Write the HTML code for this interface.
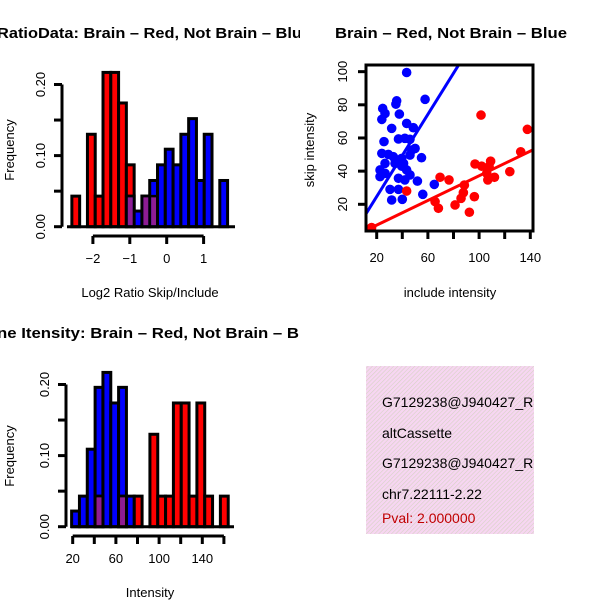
<!DOCTYPE html>
<html><head><meta charset="utf-8"><style>
html,body{margin:0;padding:0;background:#fff;}
svg text{font-family:"Liberation Sans",sans-serif;}
</style></head><body>
<svg id="chart" width="600" height="600" viewBox="0 0 600 600" xmlns="http://www.w3.org/2000/svg">
<defs>
<pattern id="hatch" width="3" height="3" patternUnits="userSpaceOnUse" patternTransform="rotate(45)">
<rect width="3" height="3" fill="#f7d6f2"/><line x1="0" y1="0" x2="0" y2="3" stroke="#d6d2c4" stroke-width="1.2"/>
</pattern>
<clipPath id="cp1"><rect x="0" y="0" width="300" height="300"/></clipPath>
<clipPath id="cp3"><rect x="0" y="300" width="300" height="300"/></clipPath>
<clipPath id="cp2"><rect x="367" y="66" width="165" height="164"/></clipPath>
<clipPath id="cp4"><rect x="366" y="366" width="168" height="168"/></clipPath>
</defs>
<g id="p1" clip-path="url(#cp1)"></g>
<g id="p2"></g>
<g id="p3" clip-path="url(#cp3)"></g>
<g id="p4">
<rect x="366" y="366" width="168" height="168" fill="url(#hatch)"/>
<g clip-path="url(#cp4)" font-size="14">
<text x="382" y="407">G7129238@J940427_RC</text>
<text x="382" y="438">altCassette</text>
<text x="382" y="468">G7129238@J940427_RC</text>
<text x="382" y="499">chr7.22111-2.22</text>
<text x="382" y="523" fill="#c00000">Pval: 2.000000</text>
</g>
</g>
</svg>
<script>
// ---- data ----
const h1Start = -2.57, h1Width = 0.211;
const h1Red  = [0.043,0,0.13,0.043,0.217,0.217,0.174,0.087,0,0.043,0.043,0,0,0,0,0,0,0,0,0];
const h1Blue = [0,0,0,0,0,0,0,0.043,0.022,0.043,0.065,0.087,0.109,0.087,0.13,0.152,0.065,0.13,0,0.065];
const h1XTicks = [-2,-1,0,1];
const freqTicks = [0.00,0.10,0.20];
const freqMinor = [0.05,0.15];

const h3Start = 19, h3Width = 7.25;
const h3Blue = [0.022,0.043,0.109,0.196,0.217,0.174,0.196,0.043,0,0,0,0,0,0,0,0,0,0,0,0];
const h3Red  = [0,0,0,0.043,0,0,0.043,0,0.043,0,0.13,0.043,0.043,0.174,0.174,0.043,0.174,0.043,0,0.043];
const h3XTicks = [20,40,60,80,100,120,140,160];
const h3XLabels = [20,60,100,140];

const blueX = [43.4,57.8,24.7,26.5,24,35.6,35,37.7,31.7,43.4,48.6,25.7,37,42,46,24,29.1,33,35.6,39.5,46,50,47.4,55,26.5,34.3,39.5,22.6,22.6,37,42,46,51.8,30.4,37,31.7,40,56,65,26.5,41,43.4];
const blueY = [99.5,83.3,77.8,74.8,71.2,82.4,80.4,74.4,65.8,68.8,66.2,57.8,59.4,59.8,59.2,50.7,50.1,48.7,46.7,47.7,49.7,53.7,52.7,48.1,44.7,44.7,43,40.7,36.7,35.7,34.7,37.7,34,29,29,22.6,23,26,32,38.7,44.7,40.7];
const redX = [16,43.4,69.5,76.5,65.6,68.2,81.2,85.9,88.5,87.7,92.4,96.3,96.8,102,101.5,106,109,107.8,106.8,112,124,132.5,137.7];
const redY = [6,28,36.3,34.7,21.6,17.6,19.6,23.6,31.6,27,15.2,24.6,44.3,43,73.8,38.7,46,42.7,34.7,36.3,39.7,51.7,65.2];
const blueFit = [-0.13,1.24];   // intercept, slope
const redFit = [0.0,0.372];
const scXTicks = [20,40,60,80,100,120,140];
const scXLabels = [20,60,100,140];
const scYTicks = [20,40,60,80,100];

const NS = "http://www.w3.org/2000/svg";
function mk(parent, tag, attrs, name){
  const e = document.createElementNS(NS, tag);
  for (const k in attrs) e.setAttribute(k, attrs[k]);
  
  
  parent.appendChild(e); return e;
}
function txt(parent, x, y, s, name, extra){
  const t = mk(parent, 'text', Object.assign({x:x, y:y}, extra||{}), name);
  t.textContent = s; return t;
}

function histogram(g, cfg){
  const xs = v => cfg.x0 + (v - cfg.v0) * cfg.kx;
  const ys = f => cfg.y0 - f * cfg.ky;
  const n = cfg.a.length;
  const draw = (arr, color, nm) => {
    for (let i = 0; i < n; i++){
      if (arr[i] <= 0) continue;
      const xa = xs(cfg.start + i*cfg.width), xb = xs(cfg.start + (i+1)*cfg.width);
      mk(g,'rect',{x:xa,y:ys(arr[i]),width:xb-xa,height:ys(0)-ys(arr[i]),fill:color,stroke:'#000','stroke-width':3}, nm);
    }
  };
  draw(cfg.a, cfg.colA, cfg.nameA);
  draw(cfg.b, cfg.colB, cfg.nameB);
  for (let i = 0; i < n; i++){
    const m = Math.min(cfg.a[i], cfg.b[i]);
    if (m <= 0) continue;
    const xa = xs(cfg.start + i*cfg.width), xb = xs(cfg.start + (i+1)*cfg.width);
    mk(g,'rect',{x:xa+1.5,y:ys(m),width:xb-xa-3,height:ys(0)-ys(m)-1.5,fill:'#8e1d93'}, 'overlap-bar');
    mk(g,'line',{x1:xa,y1:ys(m),x2:xb,y2:ys(m),stroke:'#000','stroke-width':2.5}, 'overlap-bar-top');
  }
  const yx = cfg.yAxisX;
  mk(g,'line',{x1:yx,y1:ys(0),x2:yx,y2:ys(0.2),stroke:'#000','stroke-width':3},'y-axis-line');
  freqTicks.concat(freqMinor).forEach(f=>{
    mk(g,'line',{x1:yx-8,y1:ys(f),x2:yx,y2:ys(f),stroke:'#000','stroke-width':3},'y-tick');
  });
  freqTicks.forEach(f=>{
    const lx = yx-17, ly = ys(f);
    txt(g, lx, ly, f.toFixed(2), 'y-tick-label', {'font-size':13,'text-anchor':'middle',transform:`rotate(-90 ${lx} ${ly})`});
  });
  const ax = cfg.xAxisY;
  mk(g,'line',{x1:xs(cfg.xt[0]),y1:ax,x2:xs(cfg.xt[cfg.xt.length-1]),y2:ax,stroke:'#000','stroke-width':3},'x-axis-line');
  cfg.xt.forEach(v=>mk(g,'line',{x1:xs(v),y1:ax,x2:xs(v),y2:ax+8,stroke:'#000','stroke-width':3},'x-tick'));
  cfg.xl.forEach(v=>txt(g, xs(v), ax+27, String(v).replace('-','\u2212'), 'x-tick-label', {'font-size':13,'text-anchor':'middle'}));
  mk(g,'line',{x1:cfg.yAxisX+5,y1:ys(0),x2:cfg.baseEnd,y2:ys(0),stroke:'#000','stroke-width':3},'baseline');
  txt(g, cfg.xlabX, cfg.xlabY, cfg.xlab, 'x-axis-title', {'font-size':13,'text-anchor':'middle'});
  const fx = 14, fy = cfg.flabY;
  txt(g, fx, fy, 'Frequency', 'y-axis-title', {'font-size':13,'text-anchor':'middle',transform:`rotate(-90 ${fx} ${fy})`});
  txt(g, -3, cfg.titleY, cfg.title, 'chart-title', {'font-size':14.5,'font-weight':'bold',textLength:cfg.titleLen,lengthAdjust:'spacingAndGlyphs'});
}

histogram(document.getElementById('p1'), {
  start:h1Start, width:h1Width, a:h1Red, b:h1Blue, colA:'#ff0000', colB:'#0000ff', nameA:'brain-bar', nameB:'not-brain-bar',
  x0:166.7, v0:0, kx:36.9, y0:226.7, ky:711, yAxisX:62, xAxisY:236, baseEnd:235,
  xt:h1XTicks, xl:h1XTicks, xlab:'Log2 Ratio Skip/Include', xlabX:150, xlabY:297, flabY:150,
  title:'RatioData: Brain \u2013 Red, Not Brain \u2013 Blue', titleY:38, titleLen:314
});
histogram(document.getElementById('p3'), {
  start:h3Start, width:h3Width, a:h3Blue, b:h3Red, colA:'#0000ff', colB:'#ff0000', nameA:'not-brain-bar', nameB:'brain-bar',
  x0:72.7, v0:20, kx:1.08, y0:526.7, ky:711, yAxisX:66, xAxisY:536, baseEnd:234,
  xt:h3XTicks, xl:h3XLabels, xlab:'Intensity', xlabX:150, xlabY:597, flabY:456,
  title:'ne Itensity: Brain \u2013 Red, Not Brain \u2013 B', titleY:338, titleLen:302
});

(function(){
  const g = document.getElementById('p2');
  const xs = v => 376.7 + (v-20)*1.28;
  const ys = v => 204.3 - (v-20)*1.658;
  const clip = mk(g,'g',{'clip-path':'url(#cp2)'},'plot-area');
  const line = (fit, color, nm) => {
    const xa = 5, xb = 150;
    mk(clip,'line',{x1:xs(xa),y1:ys(fit[0]+fit[1]*xa),x2:xs(xb),y2:ys(fit[0]+fit[1]*xb),stroke:color,'stroke-width':3},nm);
  };
  blueX.forEach((x,i)=>mk(clip,'circle',{cx:xs(x),cy:ys(blueY[i]),r:4.8,fill:'#0000ff'},'not-brain-point'));
  redX.forEach((x,i)=>mk(clip,'circle',{cx:xs(x),cy:ys(redY[i]),r:4.8,fill:'#ff0000'},'brain-point'));
  line(blueFit,'#0000ff','not-brain-fit-line');
  line(redFit,'#ff0000','brain-fit-line');
  mk(g,'rect',{x:366,y:65,width:167,height:166,fill:'none',stroke:'#000','stroke-width':3},'plot-frame');
  scXTicks.forEach(v=>mk(g,'line',{x1:xs(v),y1:231,x2:xs(v),y2:239,stroke:'#000','stroke-width':3},'x-tick'));
  scXLabels.forEach(v=>txt(g,xs(v),262,String(v),'x-tick-label',{'font-size':13,'text-anchor':'middle'}));
  scYTicks.forEach(v=>{
    mk(g,'line',{x1:358,y1:ys(v),x2:366,y2:ys(v),stroke:'#000','stroke-width':3},'y-tick');
    const lx=347, ly=ys(v);
    txt(g,lx,ly,String(v),'y-tick-label',{'font-size':13,'text-anchor':'middle',transform:`rotate(-90 ${lx} ${ly})`});
  });
  txt(g,450,297,'include intensity','x-axis-title',{'font-size':13,'text-anchor':'middle'});
  txt(g,314,150,'skip intensity','y-axis-title',{'font-size':13,'text-anchor':'middle',transform:'rotate(-90 314 150)'});
  txt(g,335,38,'Brain \u2013 Red, Not Brain \u2013 Blue','chart-title',{'font-size':14.5,'font-weight':'bold',textLength:232,lengthAdjust:'spacingAndGlyphs'});
})();
</script>
</body></html>
